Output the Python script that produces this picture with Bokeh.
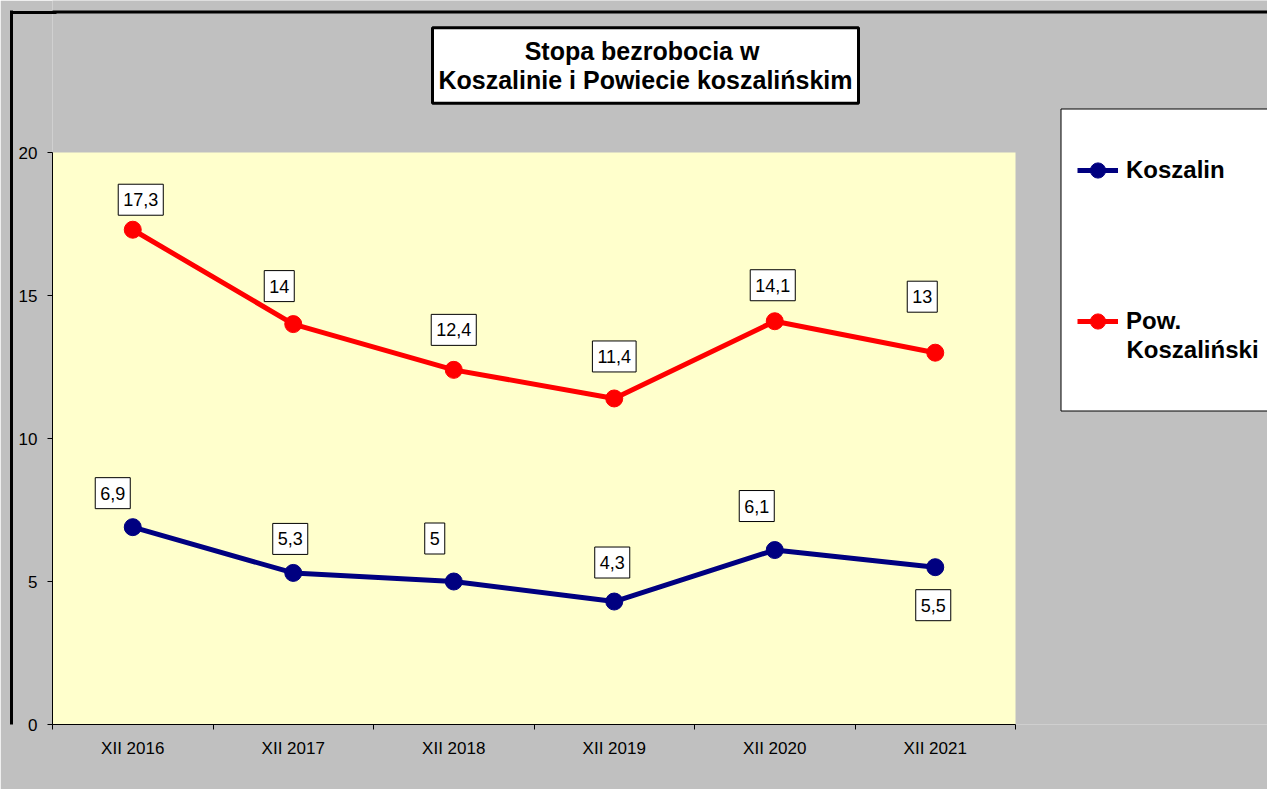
from bokeh.plotting import figure
from bokeh.models import (Range1d, FixedTicker, BoxAnnotation, Label, Legend,
                          LegendItem, ColumnDataSource, LinearAxis)
from bokeh.core.properties import value
from bokeh.embed import file_html
from bokeh.resources import INLINE

# ---------------- data ----------------
categories = ["XII 2016", "XII 2017", "XII 2018", "XII 2019", "XII 2020", "XII 2021"]
koszalin = [6.9, 5.3, 5.0, 4.3, 6.1, 5.5]
powiat = [17.3, 14.0, 12.4, 11.4, 14.1, 13.0]
series_names = ["Koszalin", "Pow.\nKoszaliński"]
title_text = "Stopa bezrobocia  w\nKoszalinie i Powiecie koszalińskim"
y_ticks = [0, 5, 10, 15, 20]

# ---------------- label placement (screen px) ----------------
koszalin_dx = [-20, -3, -19, -2, -18, -2]
koszalin_dy = [-34, -34, -43, -39, -44, 38]
powiat_dx = [8, -14, 0, 0, -2, -13]
powiat_dy = [-30, -38, -40, -42, -36, -56]

# ---------------- layout (page pixels) ----------------
W, H = 1267, 789
PLOT_L, PLOT_R, PLOT_T, PLOT_B = 52, 1015, 152, 724
EDGE = 11.5   # centre of the outer black frame line

FONT = "Liberation Sans"
BLUE = "#000080"
RED = "#FF0000"
GRAY = "#C0C0C0"
YELLOW = "#FFFFCC"

def fmt(v):
    return f"{v:g}".replace(".", ",")

n = len(categories)
xs = [i + 1 for i in range(n)]
y_top = y_ticks[-1]
px_x = (PLOT_R - PLOT_L) / n
px_y = (PLOT_B - PLOT_T) / y_top
x_start = 0.5
x_end = x_start + (W - PLOT_L) / px_x          # frame reaches the right edge
y_end = PLOT_B / px_y                          # frame reaches the top edge

p = figure(width=W, height=H, x_range=Range1d(x_start, x_end), y_range=Range1d(0, y_end),
           output_backend="svg", toolbar_location=None, title=None,
           min_border_left=PLOT_L, min_border_right=0, min_border_top=0,
           min_border_bottom=H - PLOT_B,
           background_fill_color=GRAY, border_fill_color=GRAY, outline_line_color=None)
p.xgrid.visible = False
p.ygrid.visible = False

# yellow plot area
p.add_layout(BoxAnnotation(left=x_start, right=x_start + n, bottom=0, top=y_top,
                           fill_color=YELLOW, fill_alpha=1, line_color=None, level="underlay"))

# x axis: labels at category centres, tick marks at category boundaries
p.xaxis.ticker = FixedTicker(ticks=xs, minor_ticks=[x_start + i for i in range(n + 1)])
p.xaxis.bounds = (x_start, x_start + n)
p.xaxis.major_label_overrides = {x: c for x, c in zip(xs, categories)}
p.xaxis.major_tick_in = 0
p.xaxis.major_tick_out = 0
p.xaxis.minor_tick_in = 0
p.xaxis.minor_tick_out = 5
p.xaxis.minor_tick_line_color = "black"
p.xaxis.axis_line_color = "black"
p.xaxis.major_label_standoff = 9
p.xaxis.major_label_text_font = FONT
p.xaxis.major_label_text_font_size = "17px"
p.xaxis.major_label_text_color = "black"

p.yaxis.ticker = FixedTicker(ticks=y_ticks)
p.yaxis.bounds = (0, y_top)
p.yaxis.major_tick_in = 0
p.yaxis.major_tick_out = 5
p.yaxis.major_tick_line_color = "black"
p.yaxis.minor_tick_line_color = None
p.yaxis.axis_line_color = "black"
p.yaxis.major_label_standoff = 10
p.yaxis.major_label_text_font = FONT
p.yaxis.major_label_text_font_size = "17px"
p.yaxis.major_label_text_color = "black"

# invisible spacer between the y axis and the outer frame line
spacer = LinearAxis(ticker=FixedTicker(ticks=[]), axis_line_color=None,
                    major_tick_in=0, major_tick_out=0, minor_tick_in=0, minor_tick_out=0,
                    major_tick_line_color=None, minor_tick_line_color=None,
                    major_label_standoff=0, axis_label=" ", axis_label_standoff=0,
                    axis_label_text_font_size="1px")
p.add_layout(spacer, "left")

# outer black frame: left line as a bare axis (its single inward tick closes the
# top-left corner), top line as a box edge inside the frame
edge_tick = (PLOT_B - EDGE) / px_y
edge = LinearAxis(ticker=FixedTicker(ticks=[edge_tick]), major_label_overrides={edge_tick: ""},
                  axis_line_color="black", axis_line_width=3,
                  major_tick_line_color="black", major_tick_line_width=3,
                  major_tick_in=45, major_tick_out=0, minor_tick_in=0, minor_tick_out=0,
                  major_label_standoff=0, bounds=(0, (PLOT_B - 10) / px_y))
p.add_layout(edge, "left")
p.add_layout(BoxAnnotation(left=EDGE, top=EDGE, right=3000, bottom=3000,
                           left_units="canvas", right_units="canvas",
                           top_units="canvas", bottom_units="canvas",
                           fill_alpha=0, line_color="black", line_alpha=1, line_width=3))

# series
src_k = ColumnDataSource(dict(x=xs, y=koszalin, label=[fmt(v) for v in koszalin],
                              dx=koszalin_dx, dy=koszalin_dy))
src_p = ColumnDataSource(dict(x=xs, y=powiat, label=[fmt(v) for v in powiat],
                              dx=powiat_dx, dy=powiat_dy))

lk = p.line("x", "y", source=src_k, line_color=BLUE, line_width=5)
sk = p.scatter("x", "y", source=src_k, size=17, fill_color=BLUE, line_color=BLUE)
lp = p.line("x", "y", source=src_p, line_color=RED, line_width=5)
sp = p.scatter("x", "y", source=src_p, size=17, fill_color=RED, line_color=RED)

for src in (src_k, src_p):
    p.text("x", "y", text="label", x_offset="dx", y_offset="dy", source=src,
           text_font=value(FONT), text_font_size="18px", text_color="black",
           text_align="center", text_baseline="middle",
           background_fill_color="white", border_line_color="black",
           border_line_width=1, padding=(5, 9))

# legend box
p.add_layout(BoxAnnotation(left=1060.5, top=108.5, right=3000, bottom=410.5,
                           left_units="canvas", right_units="canvas",
                           top_units="canvas", bottom_units="canvas",
                           fill_color="white", fill_alpha=1,
                           line_color="black", line_alpha=1, line_width=1))

first_lines = [s.split("\n")[0] for s in series_names]
legend = Legend(items=[LegendItem(label=first_lines[0], renderers=[lk, sk]),
                       LegendItem(label=first_lines[1], renderers=[lp, sp])],
                location=(1077 - PLOT_L, PLOT_B - 340), padding=0, margin=0, spacing=113,
                border_line_color=None, background_fill_alpha=0,
                label_text_font=FONT, label_text_font_size="24px",
                label_text_font_style="bold", label_text_color="black",
                label_standoff=8, glyph_width=41, glyph_height=38, label_height=28)
p.add_layout(legend)

# continuation line of the second legend entry
rest = "\n".join(series_names[1].split("\n")[1:])
p.add_layout(Label(x=1126, y=349, x_units="canvas", y_units="canvas", text=rest,
                   text_align="left", text_baseline="middle", text_font=FONT,
                   text_font_size="24px", text_font_style="bold", text_color="black"))

# title box
p.add_layout(Label(x=645, y=65, x_units="canvas", y_units="canvas", text=title_text,
                   text_align="center", text_baseline="middle", text_font=FONT,
                   text_font_size="25px", text_font_style="bold", text_color="black",
                   text_line_height=1.06,
                   background_fill_color="white", border_line_color="black",
                   border_line_width=3, padding=(6, 9)))

open("out.html", "w").write(file_html(p, INLINE))
